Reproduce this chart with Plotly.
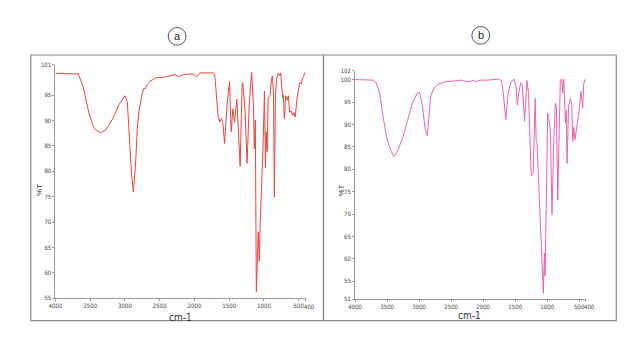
import plotly.graph_objects as go

# Spectrum a (red)
wn_a = [4000, 3800, 3673, 3606, 3512, 3441, 3355, 3274, 3179, 3085, 3000, 2966, 2933, 2905, 2880, 2866,
        2857, 2843, 2823, 2800, 2766, 2750, 2729, 2705, 2680, 2644, 2563, 2420, 2278, 2231, 2160, 2112,
        2065, 2018, 1969, 1922, 1733, 1709, 1662, 1638, 1614, 1591, 1567, 1529, 1496, 1472, 1448, 1424,
        1391, 1343, 1315, 1305, 1272, 1244, 1211, 1178, 1150, 1140, 1125, 1110, 1083, 1068, 1054, 1035,
        1016, 993, 979, 969, 955, 940, 912, 893, 879, 864, 850, 836, 817, 793, 773, 760, 731, 722, 707,
        688, 664, 650, 631, 608, 589, 570, 551, 523, 485, 466, 447, 428, 414]
t_a = [99.3, 99.3, 99.2, 96.9, 91.1, 88.4, 87.6, 88.2, 90.3, 93.2, 94.9, 93.6, 85.8, 79.5, 75.9, 77.8,
       79.7, 82.6, 88.4, 91.7, 94.9, 95.5, 96.3, 96.3, 97.1, 97.7, 98.4, 98.6, 99.1, 98.6, 99.1, 99.1,
       99.2, 99.2, 98.6, 99.4, 99.4, 99.2, 91.1, 89.7, 90.4, 89.4, 85.5, 93.6, 97.7, 87.8, 92.3, 89.7,
       94.2, 81.0, 97.1, 97.5, 91.7, 81.6, 93.6, 99.5, 92.3, 84.5, 90.1, 56.2, 68.1, 62.3, 70.0, 76.2,
       83.9, 95.8, 80.7, 87.8, 83.9, 94.5, 94.9, 98.1, 98.8, 95.9, 74.9, 94.9, 98.4, 99.4, 98.8, 99.4,
       94.5, 95.1, 90.4, 94.9, 94.0, 94.9, 91.6, 91.9, 91.0, 91.6, 90.7, 94.5, 97.5, 97.2, 98.4, 98.8, 99.5]

# Spectrum b (pink)
wn_b = [4000, 3800, 3722, 3670, 3618, 3567, 3516, 3464, 3397, 3336, 3258, 3181, 3104, 3026, 2990, 2949,
        2908, 2872, 2846, 2821, 2769, 2692, 2589, 2434, 2331, 2254, 2203, 2151, 2115, 2074, 2022, 1919,
        1764, 1713, 1687, 1646, 1610, 1569, 1517, 1487, 1466, 1445, 1414, 1389, 1353, 1317, 1291, 1250,
        1219, 1188, 1173, 1160, 1065, 1060, 1044, 1033, 992, 976, 950, 925, 898, 873, 857, 835, 795,
        773, 757, 741, 716, 700, 690, 665, 639, 617, 601, 586, 566, 545, 523, 497, 471, 445, 429, 409]
t_b = [100.0, 100.0, 99.9, 99.3, 97.0, 92.0, 87.7, 84.9, 82.8, 84.1, 87.0, 90.9, 94.9, 97.1, 97.1, 94.1,
       89.2, 87.5, 91.3, 96.3, 98.1, 99.1, 99.5, 99.8, 99.9, 99.5, 99.6, 99.9, 99.5, 99.8, 99.9, 99.9,
       100.1, 99.8, 97.0, 91.1, 97.0, 99.5, 100.1, 98.4, 94.3, 97.0, 99.3, 98.8, 90.7, 99.8, 97.0, 78.5,
       79.1, 95.8, 86.6, 86.2, 55.5, 52.3, 61.3, 56.2, 92.6, 91.5, 88.4, 69.9, 86.2, 94.8, 94.1, 73.1, 99.9,
       100.1, 97.0, 100.1, 90.3, 93.1, 81.3, 94.1, 95.8, 94.6, 86.2, 89.4, 86.6, 88.8, 90.5, 93.5, 97.4, 93.7, 99.1, 100.1]

x_ticks = [4000, 3500, 3000, 2500, 2000, 1500, 1000, 500, 400]
y_ticks_a = [55, 60, 65, 70, 75, 80, 85, 90, 95, 101]
y_ticks_b = [51, 55, 60, 65, 70, 75, 80, 85, 90, 95, 100, 102]

W, H = 640, 360
def px(x): return x / W
def py(y): return 1 - y / H

NARROW = "DejaVu Sans Condensed, Liberation Sans Narrow, Liberation Sans, sans-serif"
tick_font = dict(family=NARROW, size=6, color="#444")

fig = go.Figure()
fig.add_trace(go.Scatter(x=wn_a, y=t_a, mode="lines", line=dict(color="#e8453f", width=1),
                         xaxis="x", yaxis="y", showlegend=False))
fig.add_trace(go.Scatter(x=wn_b, y=t_b, mode="lines", line=dict(color="#e864b0", width=1),
                         xaxis="x2", yaxis="y2", showlegend=False))

ax_common = dict(showgrid=False, zeroline=False, showline=True, linecolor="#999", linewidth=1,
                 ticks="outside", ticklen=2, tickcolor="#999", tickfont=tick_font, fixedrange=True,
                 tickangle=0)

# the last tick (400) gets its label as an annotation placed right after "500"
x_ticktext = [str(v) for v in x_ticks[:-1]] + [""]

fig.update_layout(
    width=W, height=H, margin=dict(l=0, r=0, t=0, b=0), autosize=False,
    paper_bgcolor="white", plot_bgcolor="white",
    xaxis=dict(domain=[px(49), px(302)], range=[4000, 400], tickvals=x_ticks,
               ticktext=x_ticktext, anchor="y", **ax_common),
    yaxis=dict(domain=[py(300), py(62)], range=[55, 101], tickvals=y_ticks_a,
               ticktext=[str(v) for v in y_ticks_a], anchor="x", **ax_common),
    xaxis2=dict(domain=[px(352), px(585)], range=[4000, 400], tickvals=x_ticks,
                ticktext=x_ticktext, anchor="y2", **ax_common),
    yaxis2=dict(domain=[py(301), py(68)], range=[51, 102], tickvals=y_ticks_b,
                ticktext=[str(v) for v in y_ticks_b], anchor="x2", **ax_common),
)

shapes = []
# panel borders
for x0, x1 in [(24, 320), (320, 616)]:
    shapes.append(dict(type="rect", xref="paper", yref="paper", x0=px(x0), x1=px(x1), y0=py(323), y1=py(52),
                       line=dict(color="#8a8a8a", width=1.2), fillcolor="rgba(0,0,0,0)", layer="below"))
# circles around labels
for cx, cy in [(172, 33), (479, 32)]:
    shapes.append(dict(type="circle", xref="paper", yref="paper", x0=px(cx - 9), x1=px(cx + 9),
                       y0=py(cy + 9), y1=py(cy - 9), line=dict(color="#555", width=1)))
fig.update_layout(shapes=shapes)

ann = []
for t, cx, cy in [("a", 172, 33), ("b", 479, 32)]:
    ann.append(dict(text=t, x=px(cx), y=py(cy), xref="paper", yref="paper", showarrow=False,
                    xanchor="center", yanchor="middle",
                    font=dict(family="Liberation Sans, Arial, sans-serif", size=11, color="#222")))
for cx, cy in [(175, 320), (468, 318)]:
    ann.append(dict(text="cm-1", x=px(cx), y=py(cy), xref="paper", yref="paper", showarrow=False,
                    xanchor="center", yanchor="middle",
                    font=dict(family=NARROW, size=10, color="#333")))
for cx, cy in [(33, 190), (338, 190)]:
    ann.append(dict(text="%T", x=px(cx), y=py(cy), xref="paper", yref="paper", showarrow=False, textangle=-90,
                    xanchor="center", yanchor="middle",
                    font=dict(family="Liberation Sans, Arial, sans-serif", size=8, color="#333")))
# "400" label right next to "500", on the tick-label line
for xa, ybase in [("x", 300), ("x2", 301)]:
    ann.append(dict(text=str(x_ticks[-1]), x=x_ticks[-2], xref=xa, y=py(ybase + 8), yref="paper",
                    showarrow=False, xanchor="left", yanchor="middle", xshift=4,
                    borderpad=0, font=tick_font))
fig.update_layout(annotations=ann)

fig.write_html("out.html", config={"displayModeBar": False},
               post_script="document.body.style.margin='0';document.body.style.overflow='hidden';")
